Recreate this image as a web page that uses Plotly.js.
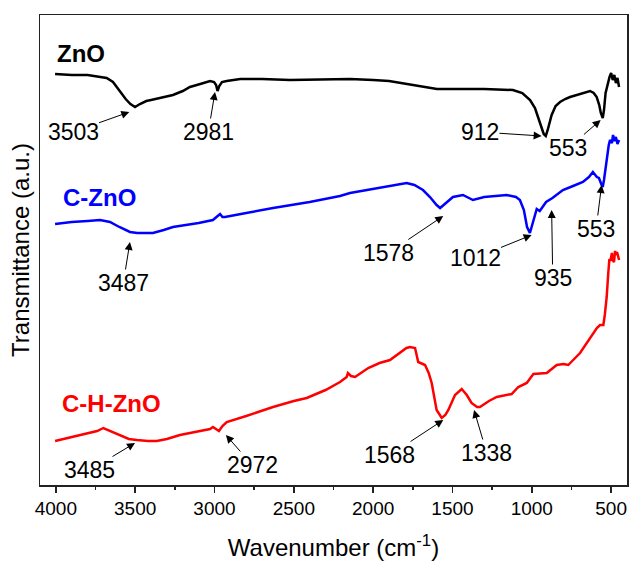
<!DOCTYPE html>
<html>
<head>
<meta charset="utf-8">
<script src="https://cdn.plot.ly/plotly-3.0.1.min.js"></script>
<style>html,body{margin:0;padding:0;background:#fff;}#chart{width:629px;height:562px;}</style>
</head>
<body>
<div id="chart"></div>
<script>
// ---- Data (wavenumber in cm^-1, transmittance in arbitrary offset units) ----
const znoWn = [4005,3900,3800,3720,3680,3640,3600,3560,3530,3501,3470,3430,3400,3340,3262,3200,3155,3090,3028,3003,2990,2981,2970,2953,2923,2838,2700,2524,2300,2146,2000,1900,1749,1650,1598,1500,1300,1119,1060,1011,980,961,940,925,912,900,875,850,822,790,759,700,633,610,591,575,565,553,545,535,520,510,500,490,480,470,460,450];
const znoT  = [411,410,410,408,407,403,394,386,381,378,381,384,385,387,390,394,398,401,404,403,400,394,399,403,404,406,406,405,406,406,405,404,400,397,396,396,396,395,392,385,377,368,357,351,349,355,370,379,383,386,388,391,394,392,388,380,372,367,375,392,402,408,412,405,410,402,407,398];

const cznoWn = [4005,3900,3800,3722,3690,3659,3600,3533,3487,3388,3320,3262,3100,3010,2980,2965,2950,2934,2800,2631,2400,2209,2146,1957,1850,1789,1740,1686,1642,1600,1578,1540,1497,1434,1400,1371,1300,1158,1100,1075,1050,1030,1012,995,969,950,935,910,870,804,740,678,640,615,590,577,560,553,545,528,515,507,495,488,480,470,460,450];
const cznoT  = [261,263,264,265,264,263,258,253,252,252,255,258,262,265,269,271,268,268,272,277,283,289,292,297,300,302,300,295,288,280,277,282,288,290,287,285,288,290,288,285,275,258,252,262,276,274,277,283,287,295,299,303,308,313,308,307,300,298,305,328,340,345,342,350,344,348,341,345];

const chznoWn = [4005,3900,3785,3740,3701,3660,3596,3540,3490,3420,3364,3300,3218,3100,3028,3010,2990,2972,2950,2923,2800,2631,2500,2419,2300,2209,2167,2159,2140,2114,2031,1960,1894,1831,1790,1768,1736,1716,1690,1673,1650,1631,1600,1568,1545,1526,1484,1442,1410,1380,1345,1327,1270,1221,1127,1085,1032,990,906,843,800,770,696,622,600,590,570,549,540,528,518,511,505,501,495,490,482,475,468,463,456,450];
const chznoT  = [44,48,52,54,57,54,50,46,45,44,44,46,50,54,56,58,56,54,59,63,69,78,84,87,95,103,108,112,109,108,117,122,125,132,137,138,137,123,121,120,112,102,75,67,70,75,90,96,90,82,78,78,84,88,91,98,102,111,112,120,121,120,132,150,154,157,160,160,170,188,212,226,224,227,232,225,223,234,230,233,228,225];

const seriesNames  = ["ZnO", "C-ZnO", "C-H-ZnO"];
const seriesColors = ["#000000", "#0000ff", "#ff0000"];

// Peak labels: text, arrow head on the curve (wn, T)
const peakText   = ["3503","2981","912","553","1578","1012","935","553","3487","3485","2972","1568","1338"];
const peakHeadWn = [3537,2997,938,566,1558,1001,875,560,3533,3501,2928,1558,1364];
const peakHeadT  = [373,393,349,365,269,250,275,300,243,42,50,65,75];

// Label placement (text centre, in axis units) - layout, not data
const labelPos = [
  [3892,353],[3039,353],[1327,353],[770,337],[1905,232],[1358,227],[868,207],
  [595,256],[3575,202],[3785,15],[2762,20],[1894,30],[1284,32]
];
const namePos = [[4005,432],[3970,288],[3974,82]];

const traces = [
  {x: znoWn, y: znoT, name: seriesNames[0], color: seriesColors[0]},
  {x: cznoWn, y: cznoT, name: seriesNames[1], color: seriesColors[1]},
  {x: chznoWn, y: chznoT, name: seriesNames[2], color: seriesColors[2]}
].map(s => ({
  x: s.x, y: s.y, name: s.name, type: 'scatter', mode: 'lines',
  line: {color: s.color, width: 2.5}, hoverinfo: 'skip'
}));

const FONT = 'Liberation Sans, Arial, sans-serif';
const annotations = [];
for (let i = 0; i < peakText.length; i++) {
  annotations.push({
    x: peakHeadWn[i], y: peakHeadT[i], xref: 'x', yref: 'y',
    ax: labelPos[i][0], ay: labelPos[i][1], axref: 'x', ayref: 'y',
    text: peakText[i], showarrow: true, arrowhead: 2, arrowsize: 1.6,
    arrowwidth: 1, arrowcolor: '#000', borderpad: 0,
    font: {family: FONT, size: 23, color: '#000'}
  });
}
for (let i = 0; i < seriesNames.length; i++) {
  annotations.push({
    x: namePos[i][0], y: namePos[i][1], xref: 'x', yref: 'y',
    text: '<b>' + seriesNames[i] + '</b>', showarrow: false, xanchor: 'left', yanchor: 'middle',
    font: {family: FONT, size: 24, color: seriesColors[i]}
  });
}

const layout = {
  width: 629, height: 562,
  margin: {l: 40, r: 2, t: 15, b: 77},
  paper_bgcolor: '#fff', plot_bgcolor: '#fff',
  showlegend: false,
  font: {family: FONT, color: '#000'},
  xaxis: {
    range: [4100, 400], autorange: false,
    tickvals: [4000, 3500, 3000, 2500, 2000, 1500, 1000, 500],
    ticktext: ['4000','3500','3000','2500','2000','1500','1000','500'],
    ticks: 'outside', ticklen: 6, tickwidth: 1.5, tickcolor: '#222',
    minor: {dtick: 250, tick0: 0, ticks: 'outside', ticklen: 3, tickwidth: 1.5, tickcolor: '#222'},
    tickfont: {size: 19, color: '#000'},
    showline: true, linecolor: '#222', linewidth: 1.5, mirror: true,
    showgrid: false, zeroline: false,
    title: {text: 'Wavenumber (cm<sup>-1</sup>)', font: {size: 24, color: '#000'}, standoff: 21}
  },
  yaxis: {
    range: [0, 470], autorange: false,
    showticklabels: false, ticks: '',
    showline: true, linecolor: '#222', linewidth: 1.5, mirror: true,
    showgrid: false, zeroline: false,
    title: {text: 'Transmittance (a.u.)', font: {size: 24, color: '#000'}, standoff: 2}
  },
  annotations: annotations
};

Plotly.newPlot('chart', traces, layout, {staticPlot: true, displayModeBar: false});
</script>
</body>
</html>
